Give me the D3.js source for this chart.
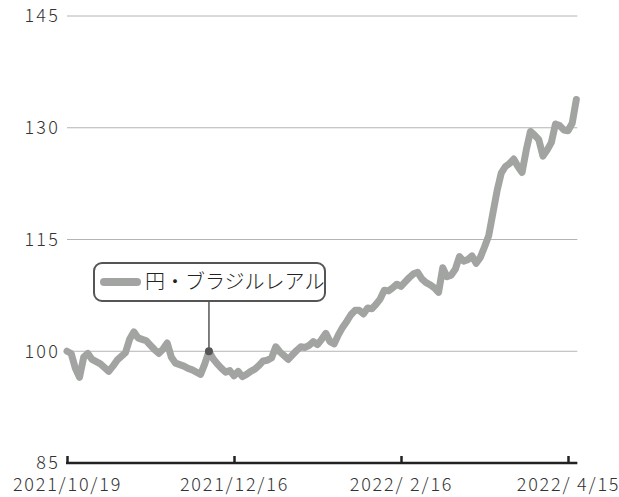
<!DOCTYPE html>
<html><head><meta charset="utf-8">
<script src="https://cdn.jsdelivr.net/npm/d3@7"></script>
<style>
body{margin:0;background:#fff;}
svg{display:block;}
text{font-family:"Noto Sans CJK JP","Noto Sans",sans-serif;}
</style>
</head><body>
<svg id="c" width="619" height="497"></svg>
<script>
// Index (base 100 at 2021/10/19), one value per business day
const values = [
 100.0, 99.7, 97.7, 96.5, 99.2, 99.7, 98.9, 98.6, 98.3, 97.8,
 97.3, 98.0, 98.8, 99.3, 99.8, 101.6, 102.6, 101.8, 101.6, 101.4,
 100.8, 100.2, 99.7, 100.3, 101.1, 99.2, 98.4, 98.2, 98.0, 97.7,
 97.5, 97.2, 96.9, 98.3, 100.0, 99.0, 98.3, 97.7, 97.2, 97.4,
 96.7, 97.3, 96.6, 96.9, 97.3, 97.6, 98.1, 98.7, 98.8, 99.1,
 100.6, 99.9, 99.4, 98.9, 99.5, 100.1, 100.6, 100.5, 100.8, 101.3,
 100.9, 101.6, 102.4, 101.3, 101.0, 102.2, 103.2, 104.0, 104.9, 105.5,
 105.5, 105.0, 105.8, 105.7, 106.3, 107.0, 108.2, 108.1, 108.5, 109.0,
 108.7, 109.3, 109.9, 110.4, 110.6, 109.7, 109.2, 108.9, 108.5, 107.9,
 111.2, 110.0, 110.2, 111.0, 112.7, 112.1, 112.3, 112.8, 111.8, 112.6,
 114.0, 115.5, 118.5, 121.5, 123.9, 124.8, 125.2, 125.8, 124.8, 124.0,
 127.0, 129.5, 129.0, 128.4, 126.2, 127.0, 128.0, 130.5, 130.3, 129.7,
 129.6, 130.6, 133.8
];
const yTicks = [85, 100, 115, 130, 145];
const xTickIndex = [0, 40, 80, 120];
const xTickLabels = ["2021/10/19", "2021/12/16", "2022/ 2/16", "2022/ 4/15"];
const seriesName = "円・ブラジルレアル";
const markerIndex = 34;

const svg = d3.select("#c");
const x = d3.scaleLinear().domain([0, 120]).range([67, 568]);
const y = d3.scaleLinear().domain([85, 145]).range([463, 16]);
const xEnd = x(values.length - 1) + 1;
const lineColor = "#a2a4a2";
const fontFam = '"Noto Sans CJK JP","Noto Sans",sans-serif';

// gridlines
svg.append("g").selectAll("line").data(yTicks.filter(d => d !== 85)).join("line")
  .attr("x1", 67).attr("x2", xEnd)
  .attr("y1", d => y(d)).attr("y2", d => y(d))
  .attr("stroke", "#b4b4b4").attr("stroke-width", 1);

// y axis labels
const yAxis = svg.append("g").attr("transform", "translate(67,0)")
  .call(d3.axisLeft(y).tickValues(yTicks).tickSize(0).tickPadding(7));
yAxis.select(".domain").remove();
yAxis.selectAll("text").attr("font-size", 18).attr("fill", "#333")
  .attr("font-weight", 300).attr("letter-spacing", "2.2px").attr("dy", "0.33em")
  .style("font-family", fontFam);

// annotation connector
const mx = x(markerIndex), my = y(values[markerIndex]);
svg.append("line").attr("x1", mx).attr("x2", mx).attr("y1", 301).attr("y2", my)
  .attr("stroke", "#555").attr("stroke-width", 1.5);

// series line
svg.append("path").datum(values)
  .attr("fill", "none").attr("stroke", lineColor).attr("stroke-width", 7)
  .attr("stroke-linejoin", "round").attr("stroke-linecap", "round")
  .attr("d", d3.line().x((d, i) => x(i)).y(d => y(d)));

// marker
svg.append("circle").attr("cx", mx).attr("cy", my).attr("r", 4).attr("fill", "#555");

// legend box
const lg = svg.append("g");
lg.append("rect").attr("x", 94).attr("y", 263).attr("width", 231).attr("height", 38)
  .attr("rx", 8).attr("fill", "#fff").attr("stroke", "#555").attr("stroke-width", 2);
lg.append("line").attr("x1", 104).attr("x2", 137).attr("y1", 282).attr("y2", 282)
  .attr("stroke", lineColor).attr("stroke-width", 8).attr("stroke-linecap", "round");
lg.append("text").attr("x", 145).attr("y", 282).attr("dy", "0.35em")
  .attr("font-size", 20).attr("font-weight", 300).attr("fill", "#222").text(seriesName);

// x axis
const xAxis = svg.append("g").attr("transform", "translate(0,463)")
  .call(d3.axisBottom(x).tickValues(xTickIndex).tickFormat((d, i) => xTickLabels[i])
    .tickSizeInner(-7).tickSizeOuter(0).tickPadding(15));
xAxis.select(".domain").remove();
xAxis.append("line").attr("x1", 66).attr("x2", xEnd).attr("y1", 0).attr("y2", 0)
  .attr("stroke", "#222").attr("stroke-width", 2.5);
xAxis.selectAll(".tick line").attr("stroke", "#222").attr("stroke-width", 2.5);
xAxis.selectAll("text").attr("font-size", 18).attr("fill", "#333")
  .attr("font-weight", 300).attr("letter-spacing", "1.8px")
  .style("font-family", fontFam);
</script>
</body></html>
